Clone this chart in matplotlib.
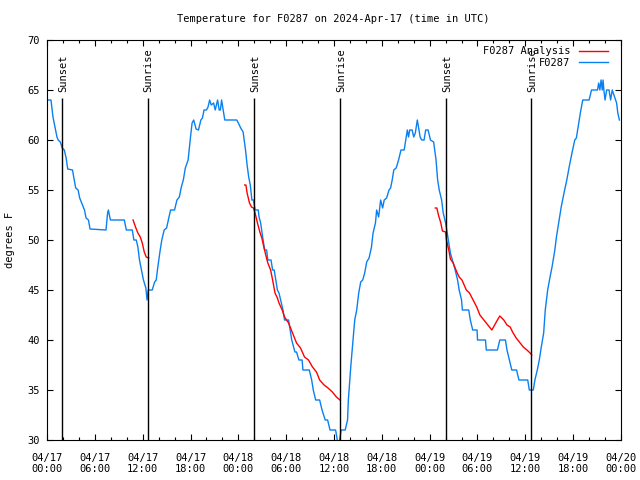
import numpy as np
import matplotlib
matplotlib.use("Agg")
import matplotlib.pyplot as plt
from matplotlib.ticker import MultipleLocator

# ---- data (hours since 2024-04-17 00:00 UTC) ----
obs_hours = [0.15, 0.5, 0.75, 1.0, 1.25, 1.4, 1.67, 1.9, 2.17, 2.4, 2.6, 3.2, 3.35, 3.6, 3.9, 4.1,
             4.35, 4.7, 4.9, 5.2, 5.4, 7.4, 7.6, 7.7, 7.95, 9.7, 9.95, 10.7, 10.9, 11.2, 11.4, 11.6,
             11.9, 12.1, 12.4, 12.55, 12.7, 13.2, 13.5, 13.7, 13.9, 14.2, 14.4, 14.7, 15.0, 15.3,
             15.5, 16.0, 16.3, 16.6, 16.85, 17.1, 17.35, 17.7, 18.0, 18.2, 18.4, 18.7, 19.0, 19.3,
             19.5, 19.7, 20.0, 20.2, 20.4, 20.6, 20.9, 21.1, 21.4, 21.6, 21.75, 21.9, 22.3, 23.8,
             24.0, 24.3, 24.6, 24.9, 25.1, 25.3, 25.5, 25.7, 25.9, 26.1, 26.5, 26.6, 26.8, 27.05,
             27.3, 27.55, 27.7, 28.1, 28.3, 28.5, 28.7, 28.9, 29.1, 29.4, 29.6, 29.8, 30.3, 30.5,
             30.7, 31.1, 31.3, 31.6, 32.0, 32.1, 32.9, 33.2, 33.4, 33.7, 34.2, 34.5, 34.9, 35.2,
             35.5, 36.2, 36.35, 36.5, 36.7, 36.9, 37.4, 37.7, 37.8, 38.1, 38.35, 38.6, 38.85, 39.1,
             39.35, 39.6, 39.85, 40.1, 40.4, 40.7, 40.9, 41.2, 41.35, 41.6, 41.85, 42.1, 42.3, 42.6,
             42.9, 43.1, 43.3, 43.5, 43.8, 44.1, 44.4, 44.8, 45.0, 45.2, 45.35, 45.5, 45.8, 46.0,
             46.2, 46.45, 46.6, 46.8, 47.0, 47.3, 47.5, 47.8, 48.1, 48.5, 48.8, 49.0, 49.2, 49.5,
             49.7, 50.0, 50.2, 50.4, 50.6, 50.95, 51.2, 51.5, 51.7, 52.0, 52.1, 52.9, 53.1, 53.4,
             53.95, 54.0, 55.0, 55.1, 56.5, 56.8, 57.5, 57.7, 58.0, 58.3, 58.9, 59.2, 60.3, 60.5,
             61.0, 61.2, 61.5, 61.75, 62.0, 62.3, 62.5, 62.8, 63.1, 63.35, 63.7, 63.9, 64.3, 64.5,
             64.85, 65.2, 65.5, 65.85, 66.2, 66.4, 66.6, 66.9, 67.2, 68.0, 68.3, 69.05, 69.2, 69.35,
             69.5, 69.65, 69.75, 69.85, 70.0, 70.2, 70.5, 70.7, 70.9, 71.45, 71.6, 71.8]
obs_temps = [64, 64, 62.3, 61.3, 60.3, 60, 59.8, 59.2, 59, 58.2, 57.1, 57, 56.3, 55.2, 55, 54.2,
             53.7, 53, 52.2, 52, 51.1, 51, 52.7, 53, 52, 52, 51, 51, 50, 50, 49.3, 48,
             46.8, 46, 45.2, 44, 45, 45, 45.8, 46, 47.3, 49, 50, 51, 51.2, 52.3,
             53, 53, 54, 54.3, 55.3, 56, 57.2, 58, 60.3, 61.7, 62, 61.1, 61, 62,
             62.2, 63, 63, 63.3, 64, 63.5, 63.7, 63, 64, 63, 63, 64, 62, 62,
             61.7, 61.2, 60.8, 59, 57.5, 56.3, 55.5, 54, 54, 53, 53, 52.3, 51.7, 50.3,
             49, 49, 48, 48, 47, 47, 46, 45, 44.7, 43.7, 43, 42, 42, 41,
             40, 38.8, 38.8, 38, 38, 37, 37, 36, 35, 34, 34, 33, 32, 32,
             31, 31, 30.3, 29.5, 30, 31, 31, 32, 34, 37.3, 39.7, 42, 43, 44.7,
             45.8, 46, 46.7, 47.8, 48.2, 49.3, 50.7, 51.7, 53, 52.3, 54, 53.2, 54, 54.2,
             55, 55.2, 56, 57, 57.2, 58, 59, 59, 60, 61, 60.3, 61, 61, 60.3,
             60.7, 62, 61.3, 60.3, 60, 60, 61, 61, 60, 59.8, 58, 56, 55, 54,
             52.7, 51.7, 50.7, 49.7, 48.7, 47.7, 47, 46, 45, 44, 43, 43, 42, 41,
             41, 40, 40, 39, 39, 40, 40, 39, 38, 37, 37, 36, 36, 35,
             35, 36, 37, 38, 39.3, 40.7, 43, 45, 46.3, 47.3, 49, 50.3, 52.3, 53.3,
             54.7, 56, 57.3, 58.7, 60, 60.2, 61.2, 62.7, 64, 64, 65, 65, 65.7, 65,
             66, 65, 66, 65, 64, 65, 65, 64, 65, 63.7, 62.7, 62]

ana1_hours = [10.8, 11.1, 11.4, 11.7, 11.95, 12.2, 12.45, 12.75]
ana1_temps = [52, 51.3, 50.7, 50.3, 49.7, 48.8, 48.3, 48.2]
ana2_hours = [24.8, 24.95, 25.1, 25.4, 25.65, 25.9, 26.1, 26.4, 26.7, 26.95, 27.2, 27.5, 27.7,
              28.05, 28.3, 28.6, 28.9, 29.1, 29.5, 29.8, 30.3, 30.8, 31.3, 31.8, 32.3, 32.8,
              33.3, 33.8, 34.2, 34.75, 35.25, 35.8, 36.3, 36.75]
ana2_temps = [55.5, 55.5, 54.7, 53.7, 53.3, 53.2, 52.7, 51.7, 50.8, 50.2, 49.3, 48.3, 47.7,
              47, 46, 44.7, 44.2, 43.7, 43, 42.3, 41.7, 40.7, 39.7, 39.2, 38.3, 38,
              37.3, 36.8, 36, 35.5, 35.2, 34.8, 34.3, 34]
ana3_hours = [48.7, 48.9, 49.1, 49.4, 49.6, 50.0, 50.1, 50.4, 50.6, 50.95, 51.4, 51.7, 52.05,
              52.6, 53.0, 53.45, 53.9, 54.3, 54.8, 55.3, 55.8, 56.15, 56.5, 56.8, 57.3, 57.7,
              58.1, 58.4, 58.85, 59.25, 59.75, 60.2, 60.6, 60.8]
ana3_temps = [53.2, 53.2, 52.5, 51.7, 50.9, 50.8, 50, 49, 48.1, 47.7, 46.8, 46.3, 46,
              45, 44.7, 44, 43.3, 42.5, 42, 41.5, 41, 41.5, 42, 42.4, 42, 41.5,
              41.3, 40.8, 40.2, 39.8, 39.3, 39, 38.7, 38.5]

sunset_hours = [1.92, 25.97, 50.07]
sunrise_hours = [12.65, 36.77, 60.75]

tick_hours = [0, 6, 12, 18, 24, 30, 36, 42, 48, 54, 60, 66, 72]
tick_labels = ["04/17\n00:00", "04/17\n06:00", "04/17\n12:00", "04/17\n18:00",
               "04/18\n00:00", "04/18\n06:00", "04/18\n12:00", "04/18\n18:00",
               "04/19\n00:00", "04/19\n06:00", "04/19\n12:00", "04/19\n18:00",
               "04/20\n00:00"]

title = "Temperature for F0287 on 2024-Apr-17 (time in UTC)"

# ---- plot ----
FONT = "DejaVu Sans Mono"
FS = 7.5
plt.rcParams['font.family'] = FONT
plt.rcParams['font.size'] = FS

fig = plt.figure(figsize=(6.4, 4.8), dpi=100)
ax = fig.add_axes([47/640, 40/480, 574/640, 400/480])

BLUE = "#0a80f0"
RED = "#ff0000"

for i, (hh, tt) in enumerate([(ana1_hours, ana1_temps), (ana2_hours, ana2_temps),
                              (ana3_hours, ana3_temps)]):
    ax.plot(hh, tt, color=RED, lw=1.0, label="F0287 Analysis" if i == 0 else None, zorder=3)
ax.plot(obs_hours, obs_temps, color=BLUE, lw=1.0, label="F0287", zorder=2)

line_top = 64.2
ax.vlines(sunset_hours + sunrise_hours, 30, line_top, color="black", lw=1.0, zorder=4)
for h in sunset_hours:
    ax.text(h + 0.1, 64.8, "Sunset", rotation=90, ha="center", va="bottom", fontsize=FS)
for h in sunrise_hours:
    ax.text(h + 0.1, 64.8, "Sunrise", rotation=90, ha="center", va="bottom", fontsize=FS)

ax.set_xlim(0, 72)
ax.set_ylim(30, 70)
ax.set_xticks(tick_hours)
ax.set_xticklabels(tick_labels)
ax.xaxis.set_minor_locator(MultipleLocator(2))
ax.yaxis.set_major_locator(MultipleLocator(5))
ax.tick_params(axis="both", which="both", direction="in", top=True, right=True, width=0.8)
ax.tick_params(axis="both", which="major", length=4.5)
ax.tick_params(axis="x", which="minor", length=2.5)
ax.tick_params(axis="x", which="major", pad=9)
ax.tick_params(axis="y", which="major", pad=5)
for s in ax.spines.values():
    s.set_linewidth(0.8)

fig.text(333/640, 1 - 19/480, title, ha="center", va="center", fontsize=FS)
fig.text(10/640, 0.5, "degrees F", rotation=90, ha="center", va="center", fontsize=FS)

leg = ax.legend(loc="upper right", bbox_to_anchor=(1 - 7/574, 1), frameon=False,
                markerfirst=False, handlelength=2.8, handletextpad=0.8, labelspacing=0.15,
                borderaxespad=0.2, fontsize=FS)

fig.savefig("out.png", dpi=100)
